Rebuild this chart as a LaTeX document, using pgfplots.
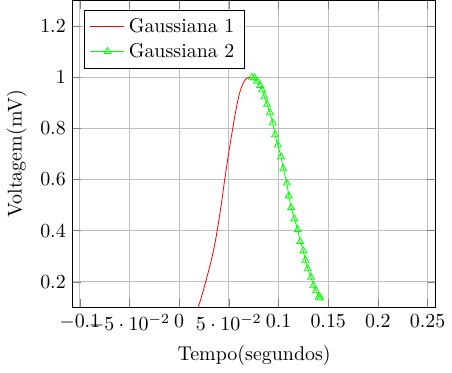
\documentclass[border=0pt]{standalone}
\usepackage{pgfplots}
\pgfplotsset{compat=1.18}
\begin{document}
\begin{tikzpicture}
\begin{axis}[
  scale only axis,
  width=182pt, height=154pt,
  xmin=-0.107, xmax=0.258,
  ymin=0.1, ymax=1.3,
  xtick={-0.1,-0.05,0,0.05,0.1,0.15,0.2,0.25},
  ytick={0.2,0.4,0.6,0.8,1,1.2},
  grid=major,
  xlabel={Tempo(segundos)},
  ylabel={Voltagem(mV)},
  legend pos=north west,
]
\addplot[red, no marks, smooth] coordinates {
(0.0160,0.070) (0.0191,0.100) (0.0235,0.155) (0.0274,0.210) (0.0324,0.285)
(0.0360,0.350) (0.0391,0.420) (0.0425,0.505) (0.0457,0.596) (0.0495,0.695)
(0.0535,0.790) (0.0575,0.880) (0.0610,0.940) (0.0645,0.978) (0.0680,0.996)
(0.0720,1.000)
};
\addlegendentry{Gaussiana 1}
\addplot[green, mark=triangle, mark options={solid}] coordinates {
(0.0732,1.000) (0.0758,0.997) (0.0785,0.984) (0.0815,0.967) (0.0835,0.950)
(0.0858,0.923) (0.0885,0.894) (0.0914,0.861) (0.0942,0.821) (0.0965,0.775)
(0.0992,0.735) (0.1025,0.689) (0.1048,0.642) (0.1083,0.586) (0.1103,0.536)
(0.1126,0.490) (0.1159,0.446) (0.1193,0.404) (0.1217,0.357) (0.1250,0.321)
(0.1270,0.284) (0.1294,0.251) (0.1327,0.218) (0.1350,0.185) (0.1377,0.165)
(0.1404,0.140) (0.1420,0.137)
};
\addlegendentry{Gaussiana 2}
\end{axis}
\end{tikzpicture}
\end{document}
